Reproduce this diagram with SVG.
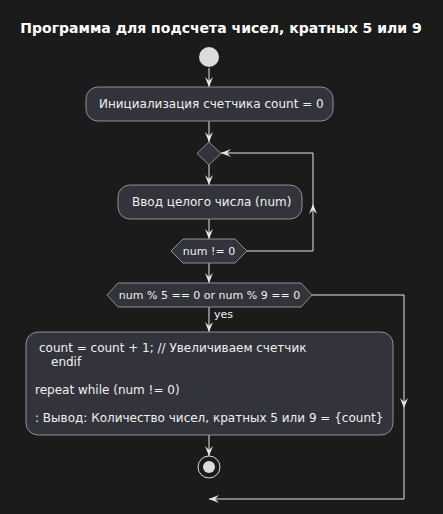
<svg xmlns="http://www.w3.org/2000/svg" width="443" height="514" viewBox="0 0 443 514">
<style>
.bg{fill:#1b1b1b}
.box{fill:#33333b;stroke:#8f8f96;stroke-width:1}
.t{font-family:"DejaVu Sans",sans-serif;font-size:12px;fill:#f0f0f0}
.s{font-family:"DejaVu Sans",sans-serif;font-size:11px;fill:#f0f0f0}
.title{font-family:"DejaVu Sans",sans-serif;font-size:14px;font-weight:bold;fill:#ffffff}
.ln{fill:none;stroke:#e6e6e6;stroke-width:1}
</style>
<defs>
<marker id="ah" viewBox="0 0 10 8" refX="10" refY="4" markerWidth="10" markerHeight="8" markerUnits="userSpaceOnUse" orient="auto">
<path d="M0,0 L10,4 L0,8 L4,4 Z" fill="#e6e6e6"/>
</marker>
</defs>
<rect class="bg" x="0" y="0" width="443" height="514"/>
<text class="title" x="221" y="33" text-anchor="middle">Программа для подсчета чисел, кратных 5 или 9</text>
<g id="connectors">
<path class="ln" d="M209,68 V87" marker-end="url(#ah)"/>
<path class="ln" d="M209,121 V142" marker-end="url(#ah)"/>
<path class="ln" d="M209,165 V185" marker-end="url(#ah)"/>
<path class="ln" d="M209,219 V239" marker-end="url(#ah)"/>
<path class="ln" d="M247,251 H313 V204" marker-end="url(#ah)"/>
<path class="ln" d="M313,204 V153 H221" marker-end="url(#ah)"/>
<path class="ln" d="M209,263 V283" marker-end="url(#ah)"/>
<path class="ln" d="M209,307 V332" marker-end="url(#ah)"/>
<text class="s" x="214" y="318">yes</text>
<path class="ln" d="M312,295 H404 V408" marker-end="url(#ah)"/>
<path class="ln" d="M404,408 V499 H209" marker-end="url(#ah)"/>
<path class="ln" d="M209,435 V456" marker-end="url(#ah)"/>
</g>
<g id="start"><circle cx="209" cy="57" r="10" fill="#dcdcdc"/></g>
<g id="init"><rect class="box" x="86" y="87" width="247" height="34" rx="12"/><text class="t" x="99" y="108">Инициализация счетчика count = 0</text></g>
<g id="merge"><polygon class="box" points="209,142 221,153.5 209,165 197,153.5"/></g>
<g id="input"><rect class="box" x="118" y="185" width="184" height="34" rx="12"/><text class="t" x="132" y="206">Ввод целого числа (num)</text></g>
<g id="loopcond"><polygon class="box" points="171,251 183,239 235,239 247,251 235,263 183,263"/><text class="s" x="209" y="255" text-anchor="middle">num != 0</text></g>
<g id="cond"><polygon class="box" points="107,295 118,283 301,283 312,295 301,307 118,307"/><text class="s" x="209.5" y="299" text-anchor="middle">num % 5 == 0 or num % 9 == 0</text></g>
<g id="count"><rect class="box" x="26" y="332" width="367" height="103" rx="12"/>
<text class="t" x="39" y="352">count = count + 1; // Увеличиваем счетчик</text>
<text class="t" x="51" y="366">endif</text>
<text class="t" x="35" y="394">repeat while (num != 0)</text>
<text class="t" x="35" y="422">: Вывод: Количество чисел, кратных 5 или 9 = {count}</text>
</g>
<g id="end"><circle cx="209" cy="467" r="11" fill="none" stroke="#dcdcdc" stroke-width="1"/><circle cx="209" cy="467" r="6" fill="#dcdcdc"/></g>
</svg>
